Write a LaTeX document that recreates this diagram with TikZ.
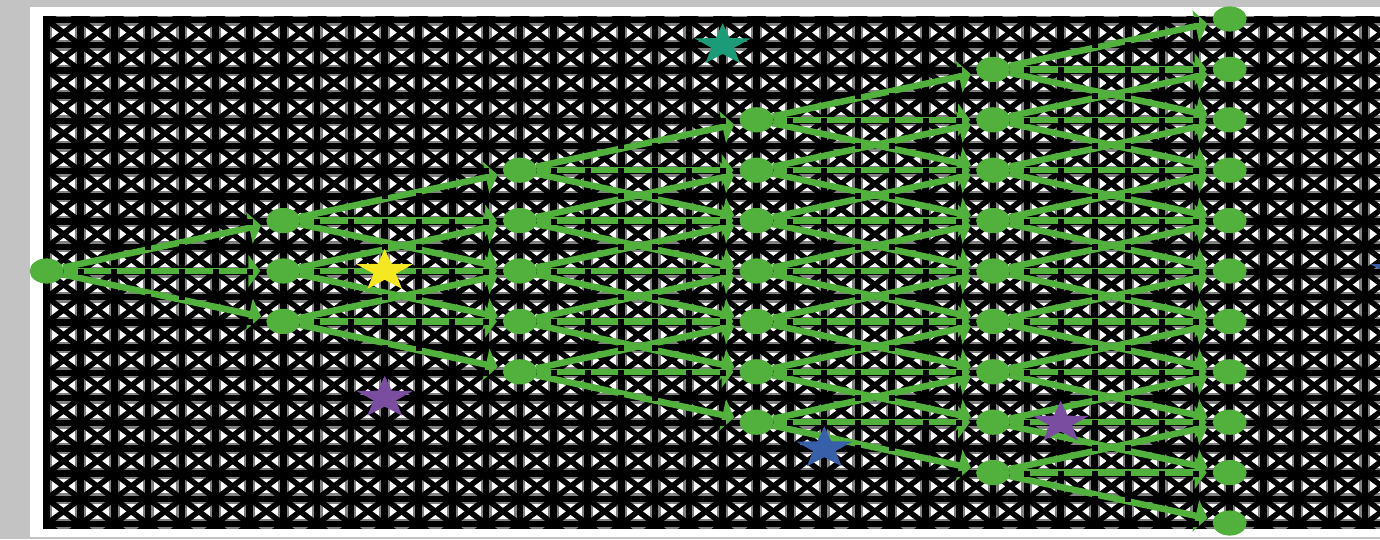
\documentclass[tikz,border=0pt]{standalone}
\usetikzlibrary{arrows.meta,shapes.geometric}
\definecolor{bggray}{RGB}{195,195,195}
\definecolor{treegreen}{RGB}{82,176,61}
\definecolor{halogray}{RGB}{128,128,128}
\definecolor{stteal}{RGB}{28,155,120}
\definecolor{stblue}{RGB}{56,95,170}
\definecolor{stpurple}{RGB}{123,77,160}
\definecolor{styellow}{RGB}{245,232,35}
\newcommand\mystar[3]{\fill[#3, shift={(#1,#2)}, xscale=1.34]
  (270:22) -- (306:8.8) -- (342:22) -- (18:8.8) -- (54:22) -- (90:8.8) --
  (126:22) -- (162:8.8) -- (198:22) -- (234:8.8) -- cycle;}
\tikzset{
  treenode/.style={ellipse, minimum width=34pt, minimum height=25.2pt, inner sep=0pt, outer sep=0pt},
  edge/.style={treegreen, line width=6.5pt, shorten >=6pt, -{Triangle[width=32pt,length=12pt]}},
  halo/.style={halogray, line width=11pt},
  gridline/.style={black, line width=6.5pt},
  diagline/.style={black, line width=5.5pt},
}
\begin{document}
\begin{tikzpicture}[x=1pt,y=-1pt]
\useasboundingbox (0,0) rectangle (1380,539);
\clip (0,0) rectangle (1380,539);
\fill[bggray] (0,0) rectangle (1380,539);
\fill[white] (30,7) rectangle (1390,537);
% pattern
\begin{scope}
\clip (43,16) rectangle (1390,528);
\foreach \k in {-1,...,41} \draw[halo] ({46.7+33.8*\k},0) -- ++(0,560);
\foreach \j in {-1,...,21} \draw[halo] (0,{20+25.2*\j}) -- ++(1420,0);
\foreach \k in {-1,...,41} \draw[gridline] ({46.7+33.8*\k},0) -- ++(0,560);
\foreach \j in {-1,...,21} \draw[gridline] (0,{20+25.2*\j}) -- ++(1420,0);
\foreach \k in {-23,...,63} {
  \draw[diagline] ({46.7+33.8*(\k-1)},{20-25.2}) -- ++({33.8*23},{25.2*23});
  \draw[diagline] ({46.7+33.8*(\k+1)},{20-25.2}) -- ++({-33.8*23},{25.2*23});
}
\end{scope}
% tree nodes (placement)
\foreach \l in {0,...,5} {
  \pgfmathtruncatemacro\lo{5-\l}
  \pgfmathtruncatemacro\hi{5+\l}
  \foreach \r in {\lo,...,\hi} {
    \node[treenode] (n-\l-\r) at ({46.7+236.6*\l},{19+50.4*\r}) {};
  }
}
% edges
\foreach \l in {0,...,4} {
  \pgfmathtruncatemacro\nl{\l+1}
  \pgfmathtruncatemacro\lo{5-\l}
  \pgfmathtruncatemacro\hi{5+\l}
  \foreach \r in {\lo,...,\hi} {
    \foreach \d in {-1,0,1} {
      \pgfmathtruncatemacro\c{\r+\d}
      \draw[edge] (n-\l-\r) -- (n-\nl-\c);
    }
  }
}
% pattern intersections showing over edges
\begin{scope}
\clip (43,16) rectangle (1390,528);
\foreach \k in {0,...,40} {
  \foreach \j in {0,...,20} {
    \fill[black] ({46.7+33.8*\k-3},{20+25.2*\j-3}) rectangle ++(6,6);
  }
}
\end{scope}
% node discs
\foreach \l in {0,...,5} {
  \pgfmathtruncatemacro\lo{5-\l}
  \pgfmathtruncatemacro\hi{5+\l}
  \foreach \r in {\lo,...,\hi} {
    \fill[treegreen] (n-\l-\r.center) ellipse [x radius=17pt, y radius=12.6pt];
  }
}
% stars
\mystar{384.7}{271}{styellow}
\mystar{384.7}{397.8}{stpurple}
\mystar{722.7}{45.2}{stteal}
\mystar{824.3}{448.4}{stblue}
\mystar{1060.7}{422.8}{stpurple}
\mystar{1398.7}{271}{stblue}
\end{tikzpicture}
\end{document}
